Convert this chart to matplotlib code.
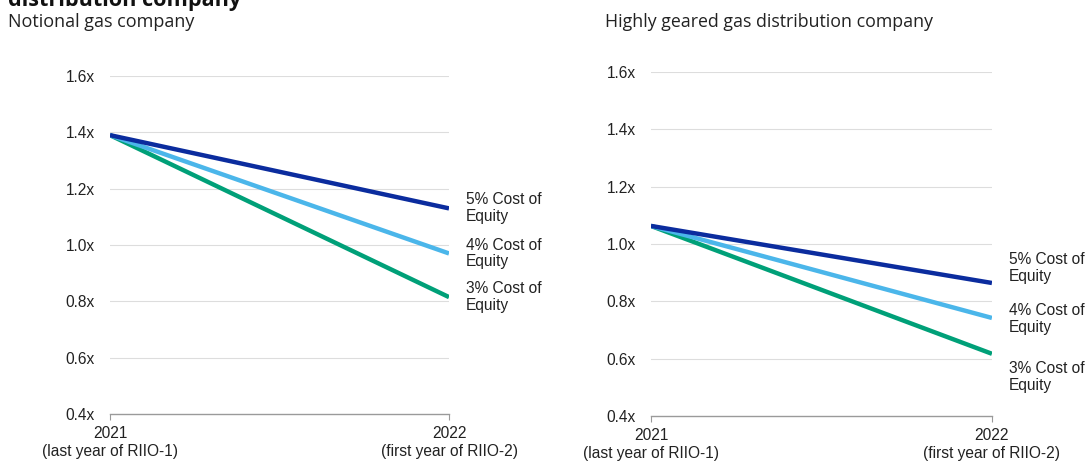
import matplotlib
matplotlib.use('Agg')
import matplotlib.pyplot as plt

# data
years = ['2021\n(last year of RIIO-1)', '2022\n(first year of RIIO-2)']
series_names = ['5% Cost of\nEquity', '4% Cost of\nEquity', '3% Cost of\nEquity']
notional = [[1.39, 1.13], [1.39, 0.97], [1.39, 0.815]]
geared = [[1.063, 0.864], [1.063, 0.742], [1.063, 0.617]]
yticks = [0.4, 0.6, 0.8, 1.0, 1.2, 1.4, 1.6]
ytick_labels = ['0.4x', '0.6x', '0.8x', '1.0x', '1.2x', '1.4x', '1.6x']

colors = ['#0b2c9e', '#4bb6ea', '#00a078']
title_font = 'Open Sans'
tick_font = 'Liberation Sans'
fs = 11.2


def panel(ax, values, label_offsets):
    x = [0, 1]
    # draw the steepest line first so the dark one sits on top like in the original
    for vals, col in reversed(list(zip(values, colors))):
        ax.plot(x, vals, color=col, lw=3.2, solid_capstyle='butt', zorder=3)
    for vals, name, off in zip(values, series_names, label_offsets):
        ax.annotate(name, xy=(1, vals[1]), xytext=(12, off), textcoords='offset points',
                    va='center', ha='left', fontsize=fs, family=tick_font,
                    color='#222222', linespacing=1.15, annotation_clip=False)
    ax.set_xlim(0, 1)
    ax.set_ylim(0.4, 1.6)
    ax.set_yticks(yticks)
    ax.set_yticklabels(ytick_labels)
    ax.set_xticks(x)
    ax.set_xticklabels(years, linespacing=1.2)
    for s in ['top', 'right', 'left']:
        ax.spines[s].set_visible(False)
    ax.spines['bottom'].set_color('#9a9a9a')
    ax.spines['bottom'].set_linewidth(1.0)
    ax.tick_params(axis='y', length=0, pad=11, labelsize=fs, labelcolor='#222222')
    ax.tick_params(axis='x', length=4, color='#9a9a9a', pad=5, labelsize=fs, labelcolor='#222222')
    for lab in ax.get_xticklabels() + ax.get_yticklabels():
        lab.set_family(tick_font)
    for t in yticks[1:]:
        ax.axhline(t, color='#dddddd', lw=0.8, zorder=1)


fig = plt.figure(figsize=(10.88, 4.62), dpi=100)
ax1 = fig.add_axes([0.1011, 0.1039, 0.3116, 0.7316])
ax2 = fig.add_axes([0.5983, 0.0996, 0.3134, 0.7446])

panel(ax1, notional, [0, 0, 0])
panel(ax2, geared, [11, -1, -17])

# heading carried over from the page above, cut by the top edge as in the original
fig.text(8 / 1088, 1 - 6 / 462, 'distribution company', fontsize=15.6, fontweight='bold',
         family=title_font, va='baseline', ha='left', color='#111111')
fig.text(8 / 1088, 1 - 22 / 462, 'Notional gas company', fontsize=13,
         family=title_font, va='center', ha='left', color='#222222')
fig.text(605 / 1088, 1 - 22 / 462, 'Highly geared gas distribution company', fontsize=12.8,
         family=title_font, va='center', ha='left', color='#222222')

fig.savefig('out.png', dpi=100)
